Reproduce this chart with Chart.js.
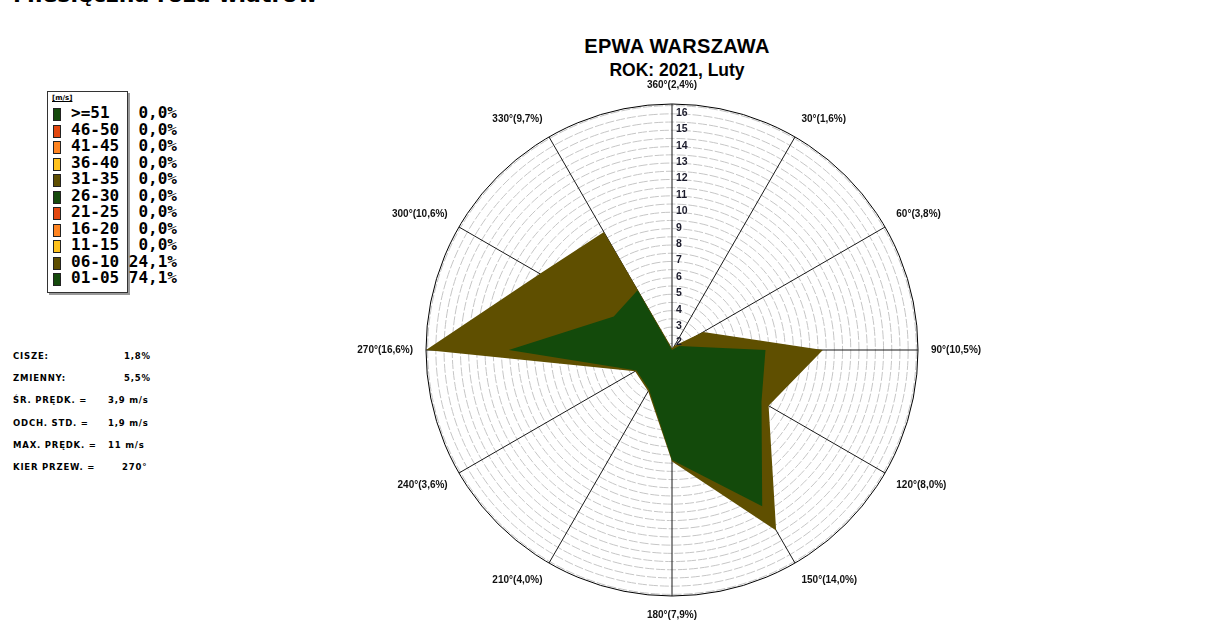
<!DOCTYPE html>
<html lang="pl">
<head>
<meta charset="utf-8">
<title>EPWA WARSZAWA - róża wiatrów</title>
<script src="https://cdn.jsdelivr.net/npm/chart.js@4.4.1/dist/chart.umd.min.js"></script>
<style>
  html, body { margin: 0; padding: 0; background: #fff; }
  body { width: 1215px; height: 635px; position: relative; overflow: hidden; font-family: "Liberation Sans", Arial, sans-serif; }
  .page-title { position: absolute; left: 13px; top: -16px; font: bold 22px "DejaVu Sans", sans-serif; line-height: 22px; white-space: nowrap; color: #000; }
  .title { position: absolute; left: 527px; width: 300px; text-align: center; font-weight: bold; color: #000; white-space: nowrap; }
  .title.main { top: 36px; font-size: 20px; line-height: 20px; letter-spacing: 0.3px; }
  .title.sub { top: 62px; font-size: 17.5px; line-height: 17.5px; }
  #wrap { position: absolute; left: 322px; top: 79px; width: 700px; height: 542px; }
  /* legenda klas prędkości */
  .legend { position: absolute; left: 47px; top: 91px; width: 79px; height: 200px; border: 1px solid #333; box-shadow: 2px 2px 0 #999; background: #fff; }
  .legend .unit { position: absolute; left: 4px; top: 2px; font: bold 7px "DejaVu Sans", sans-serif; text-decoration: underline; color: #000; }
  .legend .row { position: absolute; left: 0; height: 16px; }
  .legend .sw { position: absolute; left: 5px; top: 3px; width: 6px; height: 11px; border: 1px solid #222; }
  .legend .cls, .legend .val { position: absolute; top: 0; font: bold 16px "DejaVu Sans Mono", monospace; line-height: 16px; color: #000; white-space: nowrap; }
  .legend .cls { left: 23px; }
  .legend .val { left: 58px; width: 71px; text-align: right; }
  /* statystyki */
  .stat { position: absolute; font: bold 8.5px "DejaVu Sans", sans-serif; letter-spacing: 0.8px; color: #000; white-space: nowrap; line-height: 10px; }
</style>
</head>
<body>
<div class="page-title">Miesięczna róża wiatrów</div>
<div class="title main">EPWA WARSZAWA</div>
<div class="title sub">ROK: 2021, Luty</div>
<div class="legend" id="legend"><span class="unit">[m/s]</span></div>
<div id="stats"></div>
<div id="wrap"><canvas id="rose"></canvas></div>
<script>
// kierunki (etykiety osi)
var directions = ["360°(2,4%)", "30°(1,6%)", "60°(3,8%)", "90°(10,5%)", "120°(8,0%)", "150°(14,0%)",
  "180°(7,9%)", "210°(4,0%)", "240°(3,6%)", "270°(16,6%)", "300°(10,6%)", "330°(9,7%)"];
// 01-05 m/s (zielony) i suma 01-10 m/s (brazowy)
var speed0105 = [1.6, 1.6, 2.1, 7.3, 7.9, 12.6, 8.3, 4.4, 4.1, 11.55, 5.7, 5.8];
var speedTotal = [1.7, 1.9, 3.8, 10.8, 8.4, 14.3, 8.4, 4.5, 4.2, 16.6, 10.9, 9.9];
// skala promieniowa
var scaleMin = 1.6;
var scaleMax = 16.6;
var ringStep = 0.5;
var tickLabels = [2, 3, 4, 5, 6, 7, 8, 9, 10, 11, 12, 13, 14, 15, 16];

// legenda
var legendClasses = [">=51", "46-50", "41-45", "36-40", "31-35", "26-30", "21-25", "16-20", "11-15", "06-10", "01-05"];
var legendShares = ["0,0%", "0,0%", "0,0%", "0,0%", "0,0%", "0,0%", "0,0%", "0,0%", "0,0%", "24,1%", "74,1%"];
var legendColors = ["#154a0c", "#e2470f", "#ff8420", "#ffc21c", "#5e4e00", "#154a0c", "#e2470f", "#ff8420", "#ffc21c", "#5e4e00", "#154a0c"];

// statystyki
var statNames = ["CISZE:", "ZMIENNY:", "ŚR. PRĘDK. =", "ODCH. STD. =", "MAX. PRĘDK. =", "KIER PRZEW. ="];
var statValues = ["1,8%", "5,5%", "3,9 m/s", "1,9 m/s", "11 m/s", "270°"];
var statValueX = [124, 124, 108, 108, 108, 122];

var green = "#134a0b";
var brown = "#5f4f00";

//Legend box
var legend = document.getElementById('legend');
legendClasses.forEach(function(c, i) {
  var row = document.createElement('div');
  row.className = 'row';
  row.style.top = (13 + i * 16.5) + 'px';
  row.innerHTML = '<span class="sw" style="background:' + legendColors[i] + '"></span>' +
    '<span class="cls">' + c.replace('>', '&gt;') + '</span><span class="val">' + legendShares[i] + '</span>';
  legend.appendChild(row);
});

//Stats
var stats = document.getElementById('stats');
statNames.forEach(function(n, i) {
  var top = 351 + i * 22.2;
  stats.innerHTML += '<div class="stat" style="left:13px;top:' + top + 'px">' + n + '</div>' +
    '<div class="stat" style="left:' + statValueX[i] + 'px;top:' + top + 'px">' + statValues[i] + '</div>';
});

//Tick labels next to the vertical axis
var tickLabelPlugin = {
  id: 'tickLabels',
  afterDatasetsDraw: function(chart) {
    var r = chart.scales.r;
    var ctx = chart.ctx;
    ctx.save();
    ctx.font = 'bold 10.5px "Liberation Sans", Arial, sans-serif';
    ctx.fillStyle = '#1c1c2c';
    ctx.textAlign = 'left';
    ctx.textBaseline = 'middle';
    tickLabels.forEach(function(v) {
      var d = r.getDistanceFromCenterForValue(v);
      ctx.fillText(String(v), r.xCenter + 4, r.yCenter - d - 1);
    });
    ctx.restore();
  }
};

var ctx = document.getElementById('rose').getContext('2d');

var rose = new Chart(ctx, {
  type: 'radar',
  data: {
    labels: directions,
    datasets: [{
      label: '01-05',
      data: speed0105,
      backgroundColor: green,
      borderWidth: 0,
      pointRadius: 0,
      fill: 'start'
    }, {
      label: '06-10',
      data: speedTotal,
      backgroundColor: brown,
      borderWidth: 0,
      pointRadius: 0,
      fill: 'start'
    }]
  },
  options: {
    responsive: true,
    maintainAspectRatio: false,
    animation: false,
    layout: { padding: 0 },
    plugins: {
      legend: { display: false },
      tooltip: { enabled: false }
    },
    elements: { line: { tension: 0 } },
    scales: {
      r: {
        min: scaleMin,
        max: scaleMax,
        afterBuildTicks: function(scale) {
          var t = [{ value: scaleMin }];
          for (var v = 2; v < scaleMax; v += ringStep) t.push({ value: v });
          t.push({ value: scaleMax });
          scale.ticks = t;
        },
        ticks: { display: false },
        grid: {
          circular: true,
          lineWidth: 1,
          color: function(c) { return c.tick && c.tick.value >= scaleMax ? '#000' : '#c6c6c6'; }
        },
        border: {
          dash: function(c) { return c.tick && c.tick.value >= scaleMax ? [] : [9, 2]; }
        },
        angleLines: { color: '#1a1a1a', lineWidth: 1 },
        pointLabels: {
          padding: 13,
          color: '#111',
          font: { family: '"Liberation Sans", Arial, sans-serif', size: 10, weight: 'bold' }
        }
      }
    }
  },
  plugins: [tickLabelPlugin]
});
</script>
</body>
</html>
